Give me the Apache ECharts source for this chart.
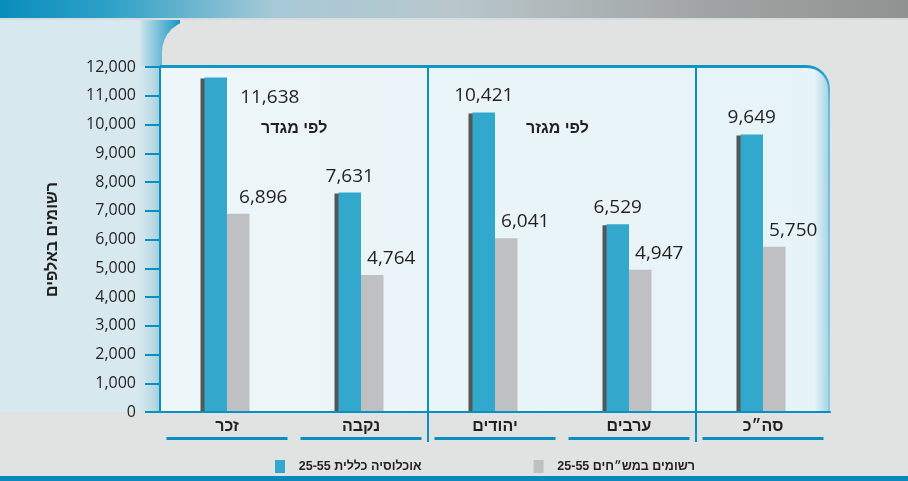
<!DOCTYPE html>
<html><head><meta charset="utf-8">
<script src="https://cdn.jsdelivr.net/npm/echarts@6/dist/echarts.min.js"></script>
<style>html,body{margin:0;padding:0;background:#e1e3e2;}#c{width:908px;height:481px;}</style>
</head><body><div id="c"></div>
<script>
const categories = ['זכר', 'נקבה', 'יהודים', 'ערבים', 'סה״כ'];
const totalPop = [11638, 7631, 10421, 6529, 9649];
const registered = [6896, 4764, 6041, 4947, 5750];
const seriesNames = ['אוכלוסיה כללית 25-55', 'רשומים במש״חים 25-55'];
const yTitle = 'רשומים באלפים';
const groupTitles = ['לפי מגדר', 'לפי מגזר'];
const dividerAt = [2, 4]; // group boundaries, in category units

const BLUE = '#31a8cc', GRAY = '#bec0c1', LINE = '#0a8fc0', TXT = '#231f20';
const HEB = '"Liberation Sans", "DejaVu Sans", sans-serif';
const NUM = '"Open Sans", "Noto Sans", sans-serif';

const chart = echarts.init(document.getElementById('c'));
const fmt = v => v.toLocaleString('en-US');

chart.setOption({
  backgroundColor: '#e1e3e2',
  animation: false,
  grid: { left: 160, right: 78, top: 67, bottom: 69 },
  legend: {
    left: 270, top: 455, itemWidth: 10, itemHeight: 13, itemGap: 112,
    icon: 'rect',
    formatter: name => '\u2002\u2009' + name,
    textStyle: { fontFamily: HEB, fontWeight: 'bold', fontSize: 12.5, color: TXT },
    data: seriesNames
  },
  graphic: { elements: [
    { type: 'rect', z: -20, shape: { x: 0, y: 0, width: 908, height: 18 },
      style: { fill: new echarts.graphic.LinearGradient(0, 0, 1, 0, [
        { offset: 0, color: '#0a8dbc' }, { offset: 0.12, color: '#2ea1c7' },
        { offset: 0.3, color: '#a6c9d7' }, { offset: 0.5, color: '#b8c7cb' },
        { offset: 0.75, color: '#a4a7a7' }, { offset: 1, color: '#909291' }]) } },
    { type: 'rect', z: -20, shape: { x: 0, y: 18, width: 908, height: 2 }, style: { fill: '#d3dcde' } },
    { type: 'rect', z: -19, shape: { x: 0, y: 20, width: 162, height: 392 },
      style: { fill: new echarts.graphic.LinearGradient(0, 0, 1, 0, [
        { offset: 0, color: '#d7e9ee' }, { offset: 0.86, color: '#d7e9ee' },
        { offset: 0.95, color: '#b6d9e4' }, { offset: 1, color: '#98c9da' }]) } },
    { type: 'rect', z: -18, shape: { x: 140, y: 20, width: 40, height: 46 },
      style: { fill: new echarts.graphic.LinearGradient(0, 0, 1, 0, [
        { offset: 0, color: '#cfe5ec' }, { offset: 0.6, color: '#5fb4d3' }, { offset: 1, color: '#1596c3' }]) } },
    { type: 'rect', z: -17, shape: { x: 162, y: 20, width: 746, height: 392, r: [32, 0, 0, 0] },
      style: { fill: '#e1e3e2' } },
    { type: 'rect', z: -16, shape: { x: 160, y: 65, width: 670, height: 347, r: [0, 24, 0, 0] },
      style: { fill: new echarts.graphic.LinearGradient(0, 0, 0, 1, [
        { offset: 0, color: '#1094c3' }, { offset: 0.1, color: '#6cbcd9' }, { offset: 1, color: '#8ccbe0' }]) } },
    { type: 'rect', z: -15, shape: { x: 160, y: 68, width: 668, height: 344, r: [0, 21, 0, 0] },
      style: { fill: new echarts.graphic.LinearGradient(0, 0, 1, 0, [
        { offset: 0, color: '#edf6f9' }, { offset: 0.98, color: '#e6f3f7' }, { offset: 1, color: '#a7d6e6' }]) } },
    { type: 'rect', z: -20, shape: { x: 0, y: 476, width: 908, height: 5 }, style: { fill: '#0a8abb' } },
    { type: 'text', left: 261, top: 121, z: 5,
      style: { text: groupTitles[0], font: 'bold 16px ' + HEB, fill: TXT } },
    { type: 'text', left: 526, top: 121, z: 5,
      style: { text: groupTitles[1], font: 'bold 16px ' + HEB, fill: TXT } }
  ]},
  xAxis: [{
    type: 'category', data: categories, z: 3,
    axisLine: { lineStyle: { color: LINE, width: 2 } },
    axisTick: { show: false },
    splitLine: { show: false },
    axisLabel: {
      margin: 5, interval: 0,
      formatter: v => '{t|' + v + '}\n{u| }',
      rich: {
        t: { fontFamily: HEB, fontWeight: 'bold', fontSize: 16, color: TXT, lineHeight: 20 },
        u: { width: 121, height: 3, lineHeight: 3, fontSize: 1, backgroundColor: LINE }
      }
    }
  }, {
    type: 'value', min: 0, max: categories.length, show: false
  }],
  yAxis: {
    type: 'value', min: 0, max: 12000, interval: 1000, offset: 2,
    name: yTitle, nameLocation: 'middle', nameGap: 97, nameRotate: 90,
    nameTextStyle: { fontFamily: HEB, fontWeight: 'bold', fontSize: 16, color: TXT },
    axisLine: { show: true, lineStyle: { color: LINE, width: 2 } },
    axisTick: { show: true, length: 15, lineStyle: { color: LINE, width: 2 } },
    splitLine: { show: false },
    axisLabel: { margin: 22, fontFamily: NUM, fontSize: 16, color: TXT, formatter: v => fmt(v) }
  },
  series: [
    { name: seriesNames[0], type: 'bar', barWidth: 22.5, barGap: '0%',
      itemStyle: { color: BLUE, shadowColor: '#525757', shadowOffsetX: -4, shadowOffsetY: 1, shadowBlur: 0 },
      label: { show: true, position: 'top', distance: 7, fontFamily: NUM, fontSize: 19, color: TXT, formatter: p => fmt(p.value) },
      data: totalPop.map((v, i) => i === 0 ? { value: v, label: { offset: [54, 37] } } : v) },
    { name: seriesNames[1], type: 'bar', barWidth: 22.5, barGap: '0%',
      itemStyle: { color: GRAY },
      label: { show: true, position: 'top', distance: 7, offset: [19, 0], fontFamily: NUM, fontSize: 19, color: TXT, formatter: p => fmt(p.value) },
      data: registered.map((v, i) => i === 0 ? { value: v, label: { offset: [25, 0] } } : v) },
    { type: 'custom', xAxisIndex: 1, yAxisIndex: 0, silent: true, z: 1,
      data: dividerAt.map(v => [v, 0]),
      renderItem: (params, api) => {
        const top = api.coord([api.value(0), 12000]);
        const bot = api.coord([api.value(0), 0]);
        return { type: 'line', shape: { x1: top[0], y1: top[1], x2: bot[0], y2: bot[1] + 30 },
          style: { stroke: LINE, lineWidth: 2 } };
      } }
  ]
});
</script></body></html>
